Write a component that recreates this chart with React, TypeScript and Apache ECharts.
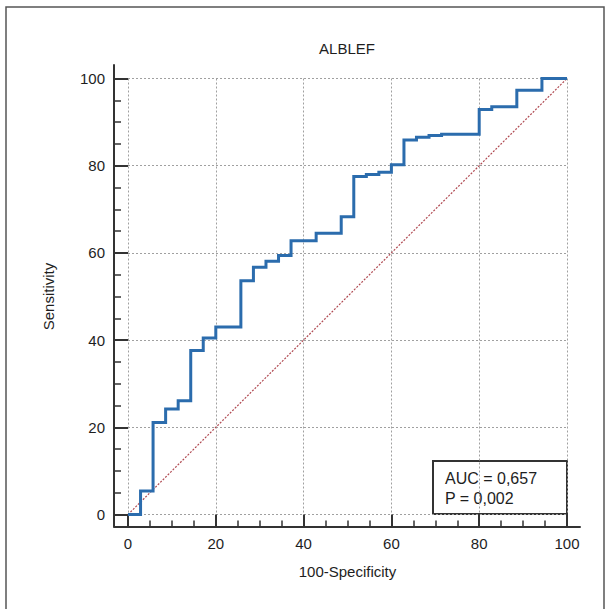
import React, { useEffect, useRef } from "react";
import * as echarts from "echarts";

const title = "ALBLEF";
const xName = "100-Specificity";
const yName = "Sensitivity";
const aucLines = ["AUC = 0,657", "P = 0,002"];

// ROC points: 100-Specificity (x) and Sensitivity (y)
const fpr = [0, 2.86, 5.71, 8.57, 11.43, 14.29, 17.14, 20.0, 25.71, 28.57, 31.43, 34.29, 37.14, 42.86, 48.57, 51.43, 54.29, 57.14, 60.0, 62.86, 65.71, 68.57, 71.43, 80.0, 82.86, 88.57, 94.29, 100];
const tpr = [0, 5.4, 21.1, 24.2, 26.1, 37.6, 40.5, 43.0, 53.6, 56.7, 58.1, 59.4, 62.8, 64.5, 68.3, 77.5, 78.0, 78.5, 80.2, 85.9, 86.5, 86.9, 87.2, 92.9, 93.5, 97.3, 100, 100];
const diagonal = [[0, 0], [100, 100]];

const FONT = "Liberation Sans, Arial, sans-serif";
const TEXT = "#1e1e1e";
const AXIS = "#333";

export default function App() {
  const ref = useRef<HTMLDivElement>(null);
  useEffect(() => {
    if (!ref.current) return;
    const chart = echarts.init(ref.current, undefined, { renderer: "svg" });
    const rocData = fpr.map((x, i) => [x, tpr[i]]);
    const option: any = {
      animation: false,
      backgroundColor: "#fff",
      textStyle: { fontFamily: FONT },
      grid: [
        // outer grid: only the long axis lines
        { left: 114, top: 65, width: 466, height: 461.5 },
        // data grid: 0..100
        { left: 128, top: 78.5, width: 439, height: 436 },
      ],
      xAxis: [
        {
          gridIndex: 0, type: "value", min: 0, max: 1,
          axisLine: { show: true, onZero: false, lineStyle: { color: AXIS, width: 2 } },
          axisTick: { show: false }, axisLabel: { show: false }, splitLine: { show: false },
        },
        {
          gridIndex: 1, type: "value", min: 0, max: 100, interval: 20,
          offset: 12,
          name: xName, nameLocation: "middle", nameGap: 37,
          nameTextStyle: { fontFamily: FONT, fontSize: 15, color: TEXT },
          axisLine: { show: false, onZero: false },
          axisTick: { show: true, inside: true, length: 12, lineStyle: { color: AXIS, width: 2 } },
          minorTick: { show: true, splitNumber: 4, length: 6, lineStyle: { color: AXIS, width: 1.5 } },
          axisLabel: { margin: 9, fontFamily: FONT, fontSize: 15, color: TEXT },
          splitLine: { show: true, lineStyle: { color: "#a0a0a0", width: 1, type: [2, 2] } },
        },
      ],
      yAxis: [
        {
          gridIndex: 0, type: "value", min: 0, max: 1,
          axisLine: { show: true, onZero: false, lineStyle: { color: AXIS, width: 2 } },
          axisTick: { show: false }, axisLabel: { show: false }, splitLine: { show: false },
        },
        {
          gridIndex: 1, type: "value", min: 0, max: 100, interval: 20,
          offset: 13,
          name: yName, nameLocation: "middle", nameGap: 59, nameRotate: 90,
          nameTextStyle: { fontFamily: FONT, fontSize: 15, color: TEXT },
          axisLine: { show: false, onZero: false },
          axisTick: { show: true, inside: true, length: 13, lineStyle: { color: AXIS, width: 2 } },
          minorTick: { show: true, splitNumber: 4, length: 6, lineStyle: { color: AXIS, width: 1.5 } },
          axisLabel: { margin: 10, fontFamily: FONT, fontSize: 15, color: TEXT },
          splitLine: { show: true, lineStyle: { color: "#a0a0a0", width: 1, type: [2, 2] } },
        },
      ],
      series: [
        {
          type: "line", xAxisIndex: 1, yAxisIndex: 1,
          data: diagonal, showSymbol: false, symbol: "none",
          lineStyle: { color: "#b04a52", width: 1.2, type: [2, 1.5] },
          z: 2,
        },
        {
          type: "line", xAxisIndex: 1, yAxisIndex: 1,
          data: rocData, step: "end", showSymbol: false, symbol: "none",
          lineStyle: { color: "#2b6cad", width: 3, join: "miter" },
          z: 3,
        },
      ],
      graphic: [
        {
          type: "rect", shape: { x: 6, y: 7, width: 598, height: 640 },
          style: { fill: "none", stroke: "#555", lineWidth: 1.5 }, silent: true, z: 0,
        },
        {
          type: "text", x: 347, y: 48,
          style: { text: title, fontFamily: FONT, fontSize: 15, fill: TEXT, align: "center", verticalAlign: "middle" },
        },
        {
          type: "group", z: 10,
          children: [
            {
              type: "rect", shape: { x: 433, y: 461, width: 134, height: 53 },
              style: { fill: "#fff", stroke: AXIS, lineWidth: 2 },
            },
            {
              type: "text", x: 445, y: 478,
              style: { text: aucLines[0], fontFamily: FONT, fontSize: 16, fill: TEXT, align: "left", verticalAlign: "middle" },
            },
            {
              type: "text", x: 445, y: 498,
              style: { text: aucLines[1], fontFamily: FONT, fontSize: 16, fill: TEXT, align: "left", verticalAlign: "middle" },
            },
          ],
        },
      ],
    };
    chart.setOption(option);
    return () => chart.dispose();
  }, []);
  return (
    <div
      ref={ref}
      style={{ position: "fixed", left: 0, top: 0, width: 611, height: 609, background: "#fff" }}
    />
  );
}
